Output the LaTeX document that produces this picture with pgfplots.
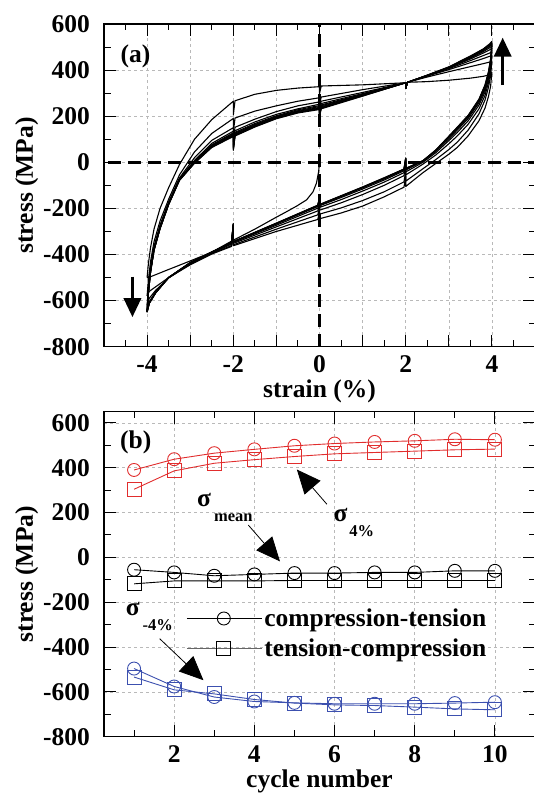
\documentclass[border=0pt]{standalone}
\usepackage{fontspec}
\setmainfont{Liberation Serif}
\usepackage{pgfplots}
\pgfplotsset{compat=1.18}
\usetikzlibrary{arrows.meta}

\definecolor{myred}{RGB}{225,45,45}
\definecolor{myblue}{RGB}{60,80,175}

\newcommand{\bigf}{\fontsize{25.5}{28}\selectfont\bfseries}
\newcommand{\subf}{\fontsize{16.5}{18}\selectfont\bfseries}

\pgfplotsset{
  myaxis/.style={
    scale only axis, width=431pt,
    axis line style={line width=1.2pt},
    tick align=inside,
    major tick length=12pt, minor tick length=6.5pt,
    tick style={black, line width=1pt},
    grid=major,
    major grid style={gray!55, dash pattern=on 3pt off 3pt, line width=0.6pt},
    tick label style={font=\bigf, inner sep=0pt},
    yticklabel style={xshift=-14pt},
    xticklabel style={yshift=-8.5pt},
    label style={font=\bigf},
    ytick={-800,-600,-400,-200,0,200,400,600},
    yticklabels={-800,-600,-400,-200,0,200,400,600},
    minor y tick num=1,
    ylabel={stress (MPa)},
    ylabel style={at={(axis description cs:-0.165,0.5)}, anchor=base},
  },
  loop/.style={black, line width=1.1pt, line join=round, no marks},
}

\begin{document}
\begin{tikzpicture}
\path[use as bounding box] (0,0) rectangle (533pt,794pt);

% ---------------- panel (a) ----------------
\begin{axis}[myaxis,
  at={(104pt,447.3pt)}, anchor=south west,
  height=322.7pt,
  xmin=-5, xmax=5, ymin=-800, ymax=600,
  xtick={-5,-4,-3,-2,-1,0,1,2,3,4,5},
  xticklabels={,-4,,-2,,0,,2,,4,},
  minor x tick num=1,
  xlabel={strain (\%)},
  xlabel style={at={(axis description cs:0.5,-0.1585)}, anchor=base},
]
% initial compression
\addplot[loop] coordinates {(0,0) (-0.02,-40) (-0.07,-90) (-0.15,-128) (-0.3,-163) (-0.53,-190) (-0.8,-218) (-1,-238) (-1.5,-290) (-2,-338) (-2,-265) (-2.04,-342) (-2.5,-390) (-3,-428) (-3.5,-465) (-3.9,-495) (-4,-500)};
% U1
\addplot[loop] coordinates {(-4,-500) (-3.97,-440) (-3.92,-370) (-3.84,-290) (-3.7,-200) (-3.5,-110) (-3.25,-10) (-2.9,100) (-2.5,185) (-2,265) (-2,205) (-1.96,267) (-1.5,295) (-1,312) (-0.5,322) (0,328) (0,298) (0.04,331) (1,336) (2,345) (2,320) (2.04,347) (2.5,350) (3,356) (3.5,365) (3.8,373) (3.95,380) (4,390)};
% L1
\addplot[loop] coordinates {(4,390) (3.97,330) (3.92,285) (3.84,235) (3.7,180) (3.45,115) (3.2,65) (3,35) (2.7,-5) (2.4,-45) (2,-105) (2,-60) (1.96,-108) (1.5,-150) (1,-190) (0.5,-220) (0,-245) (0,-215) (-0.04,-248) (-1,-300) (-2,-362) (-2,-287) (-2.04,-365) (-2.5,-398) (-3,-445) (-3.5,-500) (-3.8,-540) (-3.95,-560) (-4,-580)};
% U2
\addplot[loop] coordinates {(-4,-580) (-3.97,-510) (-3.92,-430) (-3.84,-345) (-3.7,-255) (-3.5,-160) (-3.25,-55) (-2.9,45) (-2.5,125) (-2,190) (-2,130) (-1.96,192) (-1.5,222) (-1,245) (-0.5,265) (0,280) (0,250) (0.04,283) (1,315) (2,345) (2,320) (2.04,347) (2.5,370) (3,393) (3.5,415) (3.8,428) (3.95,435) (4,440)};
% L2
\addplot[loop] coordinates {(4,440) (3.97,375) (3.92,325) (3.84,270) (3.7,210) (3.45,140) (3.2,88) (3,55) (2.7,12) (2.4,-28) (2,-82) (2,-37) (1.96,-85) (1.5,-128) (1,-166) (0.5,-198) (0,-225) (0,-195) (-0.04,-228) (-1,-290) (-2,-358) (-2,-283) (-2.04,-361) (-2.5,-396) (-3,-442) (-3.5,-502) (-3.8,-555) (-3.95,-590) (-4,-620)};
% U3
\addplot[loop] coordinates {(-4,-620) (-3.97,-540) (-3.92,-455) (-3.84,-365) (-3.7,-272) (-3.5,-172) (-3.25,-68) (-2.9,20) (-2.5,95) (-2,150) (-2,90) (-1.96,152) (-1.5,187) (-1,220) (-0.5,245) (0,262) (0,232) (0.04,265) (1,303) (2,345) (2,320) (2.04,347) (2.5,374) (3,402) (3.5,432) (3.8,450) (3.95,460) (4,465)};
% L3
\addplot[loop] coordinates {(4,465) (3.97,395) (3.92,345) (3.84,290) (3.7,232) (3.45,165) (3.2,115) (3,80) (2.7,32) (2.4,-8) (2,-55) (2,-10) (1.96,-58) (1.5,-100) (1,-140) (0.5,-176) (0,-208) (0,-178) (-0.04,-211) (-1,-280) (-2,-352) (-2,-277) (-2.04,-355) (-2.5,-394) (-3,-440) (-3.5,-501) (-3.8,-560) (-3.95,-605) (-4,-640)};
% U4
\addplot[loop] coordinates {(-4,-640) (-3.97,-555) (-3.92,-465) (-3.84,-373) (-3.7,-280) (-3.5,-177) (-3.25,-72) (-2.9,8) (-2.5,82) (-2,135) (-2,75) (-1.96,137) (-1.5,175) (-1,208) (-0.5,232) (0,252) (0,222) (0.04,255) (1,298) (2,345) (2,320) (2.04,347) (2.5,375) (3,406) (3.5,441) (3.8,463) (3.95,474) (4,480)};
% L4
\addplot[loop] coordinates {(4,480) (3.97,410) (3.92,360) (3.84,305) (3.7,248) (3.45,180) (3.2,130) (3,94) (2.7,42) (2.4,0) (2,-42) (2,3) (1.96,-45) (1.5,-86) (1,-125) (0.5,-162) (0,-196) (0,-166) (-0.04,-199) (-1,-273) (-2,-348) (-2,-273) (-2.04,-351) (-2.5,-392) (-3,-438) (-3.5,-500) (-3.8,-563) (-3.95,-608) (-4,-645)};
% U5
\addplot[loop] coordinates {(-4,-645) (-3.97,-560) (-3.92,-470) (-3.84,-377) (-3.7,-283) (-3.5,-179) (-3.25,-74) (-2.9,4) (-2.5,76) (-2,128) (-2,68) (-1.96,130) (-1.5,168) (-1,202) (-0.5,228) (0,246) (0,216) (0.04,249) (1,295) (2,345) (2,320) (2.04,347) (2.5,376) (3,409) (3.5,448) (3.8,474) (3.95,488) (4,495)};
% L5
\addplot[loop] coordinates {(4,495) (3.97,422) (3.92,370) (3.84,315) (3.7,258) (3.45,190) (3.2,140) (3,102) (2.7,48) (2.4,5) (2,-34) (2,11) (1.96,-37) (1.5,-77) (1,-116) (0.5,-153) (0,-189) (0,-159) (-0.04,-192) (-1,-268) (-2,-346) (-2,-271) (-2.04,-349) (-2.5,-391) (-3,-437) (-3.5,-500) (-3.8,-565) (-3.95,-610) (-4,-650)};
% U6
\addplot[loop] coordinates {(-4,-650) (-3.97,-565) (-3.92,-473) (-3.84,-379) (-3.7,-285) (-3.5,-180) (-3.25,-75) (-2.9,2) (-2.5,73) (-2,124) (-2,64) (-1.96,126) (-1.5,164) (-1,199) (-0.5,224) (0,242) (0,212) (0.04,245) (1,293) (2,345) (2,320) (2.04,347) (2.5,376) (3,410) (3.5,452) (3.8,480) (3.95,497) (4,505)};
% L6
\addplot[loop] coordinates {(4,505) (3.97,432) (3.92,378) (3.84,322) (3.7,264) (3.45,196) (3.2,146) (3,107) (2.7,50) (2.4,6) (2,-30) (2,15) (1.96,-33) (1.5,-72) (1,-111) (0.5,-149) (0,-186) (0,-156) (-0.04,-189) (-1,-266) (-2,-345) (-2,-270) (-2.04,-348) (-2.5,-390) (-3,-436) (-3.5,-500) (-3.8,-566) (-3.95,-611) (-4,-650)};
% U7
\addplot[loop] coordinates {(-4,-650) (-3.97,-566) (-3.92,-475) (-3.84,-380) (-3.7,-286) (-3.5,-181) (-3.25,-76) (-2.9,0) (-2.5,70) (-2,120) (-2,60) (-1.96,122) (-1.5,161) (-1,196) (-0.5,221) (0,238) (0,208) (0.04,241) (1,291) (2,345) (2,320) (2.04,347) (2.5,377) (3,411) (3.5,455) (3.8,484) (3.95,503) (4,512)};
% L7
\addplot[loop] coordinates {(4,512) (3.97,440) (3.92,385) (3.84,330) (3.7,270) (3.45,200) (3.2,150) (3,110) (2.7,52) (2.4,7) (2,-28) (2,17) (1.96,-31) (1.5,-70) (1,-109) (0.5,-147) (0,-185) (0,-155) (-0.04,-188) (-1,-265) (-2,-345) (-2,-270) (-2.04,-348) (-2.5,-390) (-3,-435) (-3.5,-500) (-3.8,-566) (-3.95,-612) (-4,-650)};
% U8
\addplot[loop] coordinates {(-4,-650) (-3.97,-567) (-3.92,-476) (-3.84,-381) (-3.7,-287) (-3.5,-182) (-3.25,-77) (-2.9,-2) (-2.5,68) (-2,117) (-2,57) (-1.96,119) (-1.5,158) (-1,193) (-0.5,218) (0,235) (0,205) (0.04,238) (1,290) (2,345) (2,320) (2.04,347) (2.5,377) (3,412) (3.5,457) (3.8,487) (3.95,507) (4,517)};
% L8
\addplot[loop] coordinates {(4,517) (3.97,444) (3.92,389) (3.84,333) (3.7,272) (3.45,202) (3.2,152) (3,112) (2.7,53) (2.4,7) (2,-27) (2,18) (1.96,-30) (1.5,-68) (1,-108) (0.5,-146) (0,-184) (0,-154) (-0.04,-187) (-1,-264) (-2,-344) (-2,-269) (-2.04,-347) (-2.5,-389) (-3,-435) (-3.5,-500) (-3.8,-566) (-3.95,-612) (-4,-648)};
% U9
\addplot[loop] coordinates {(-4,-648) (-3.97,-566) (-3.92,-476) (-3.84,-382) (-3.7,-288) (-3.5,-183) (-3.25,-78) (-2.9,-3) (-2.5,66) (-2,114) (-2,54) (-1.96,116) (-1.5,155) (-1,191) (-0.5,216) (0,232) (0,202) (0.04,235) (1,288) (2,345) (2,320) (2.04,347) (2.5,378) (3,414) (3.5,461) (3.8,492) (3.95,514) (4,525)};
% L9
\addplot[loop] coordinates {(4,525) (3.97,450) (3.92,393) (3.84,336) (3.7,274) (3.45,204) (3.2,153) (3,113) (2.7,54) (2.4,6) (2,-26) (2,19) (1.96,-29) (1.5,-67) (1,-107) (0.5,-145) (0,-183) (0,-153) (-0.04,-186) (-1,-264) (-2,-344) (-2,-269) (-2.04,-347) (-2.5,-389) (-3,-435) (-3.5,-500) (-3.8,-566) (-3.95,-612) (-4,-648)};
% U10
\addplot[loop] coordinates {(-4,-648) (-3.97,-567) (-3.92,-477) (-3.84,-382) (-3.7,-288) (-3.5,-183) (-3.25,-79) (-2.9,-4) (-2.5,64) (-2,112) (-2,52) (-1.96,114) (-1.5,153) (-1,189) (-0.5,214) (0,229) (0,199) (0.04,232) (1,287) (2,345) (2,320) (2.04,347) (2.5,378) (3,413) (3.5,459) (3.8,490) (3.95,512) (4,522)};
% dashed zero lines
\addplot[black, line width=3.3pt, dash pattern=on 13pt off 7pt, no marks] coordinates {(-4.9,0) (5,0)};
\addplot[black, line width=3.3pt, dash pattern=on 13pt off 7pt, no marks] coordinates {(0,-800) (0,600)};
% arrows
\draw[line width=3.3pt, -{Triangle[length=19pt,width=17pt]}] (axis cs:4.25,335) -- (axis cs:4.25,541);
\draw[line width=3.3pt, -{Triangle[length=19pt,width=17pt]}] (axis cs:-4.34,-496) -- (axis cs:-4.34,-672);
\node[font=\bigf, inner sep=0pt] at (axis cs:-4.27,461) {(a)};
\end{axis}

% ---------------- panel (b) ----------------
\begin{axis}[myaxis,
  at={(104pt,57.3pt)}, anchor=south west,
  height=325pt,
  xmin=0.25, xmax=11, ymin=-800, ymax=650,
  xtick={2,4,6,8,10},
  xticklabels={2,4,6,8,10},
  minor xtick={1,3,5,7,9},
  xlabel={cycle number},
  xlabel style={at={(axis description cs:0.5,-0.1548)}, anchor=base},
  legend image code/.code={\draw[mark repeat=2,mark phase=2,#1] plot coordinates {(0pt,0pt) (37pt,0pt) (75pt,0pt)};},
  legend cell align=left,
  legend style={at={(axis cs:2.3,-340)}, anchor=west, draw=none, fill=none, inner sep=0pt,
    row sep=7pt, font=\bigf, nodes={inner sep=2pt},
    /tikz/every even column/.append style={column sep=7pt}},
]
\addlegendimage{black, line width=0.9pt, mark=o, mark size=6.5pt, mark options={solid, line width=0.9pt}}
\addlegendentry{compression-tension}
\addlegendimage{black!60, line width=0.9pt, mark=square, mark size=7pt, mark options={solid, black, line width=0.9pt}}
\addlegendentry{tension-compression}

\addplot[myred, line width=0.9pt, mark=o, mark size=6.5pt, mark options={line width=0.9pt}, forget plot] coordinates {(1,390) (2,438) (3,465) (4,482) (5,498) (6,508) (7,515) (8,520) (9,527) (10,525)};
\addplot[myred, line width=0.9pt, mark=square, mark size=7pt, mark options={line width=0.9pt}, forget plot] coordinates {(1,304) (2,386) (3,420) (4,436) (5,450) (6,462) (7,468) (8,474) (9,480) (10,483)};
\addplot[black, line width=0.9pt, mark=o, mark size=6.5pt, mark options={line width=0.9pt}, forget plot] coordinates {(1,-55) (2,-67) (3,-82) (4,-76) (5,-70) (6,-70) (7,-67) (8,-67) (9,-60) (10,-60)};
\addplot[black, line width=0.9pt, mark=square, mark size=7pt, mark options={line width=0.9pt}, forget plot] coordinates {(1,-118) (2,-105) (3,-105) (4,-105) (5,-103) (6,-103) (7,-103) (8,-103) (9,-103) (10,-103)};
\addplot[myblue, line width=0.9pt, mark=o, mark size=6.5pt, mark options={line width=0.9pt}, forget plot] coordinates {(1,-496) (2,-576) (3,-623) (4,-643) (5,-649) (6,-653) (7,-653) (8,-653) (9,-650) (10,-646)};
\addplot[myblue, line width=0.9pt, mark=square, mark size=7pt, mark options={line width=0.9pt}, forget plot] coordinates {(1,-534) (2,-591) (3,-609) (4,-634) (5,-650) (6,-658) (7,-661) (8,-668) (9,-676) (10,-680)};

\draw[line width=0.8pt, -{Triangle[length=24pt,width=21pt]}] (axis cs:5.81,237) -- (axis cs:5.06,392);
\draw[line width=0.8pt, -{Triangle[length=24pt,width=21pt]}] (axis cs:3.85,144) -- (axis cs:4.64,-18);
\draw[line width=0.8pt, -{Triangle[length=24pt,width=21pt]}] (axis cs:1.64,-363) -- (axis cs:2.73,-548);

\node[font=\bigf, inner sep=0pt, anchor=base west] at (axis cs:2.57,228) {σ\hspace{3pt}\raisebox{-15pt}{\subf mean}};
\node[font=\bigf, inner sep=0pt, anchor=base west] at (axis cs:5.97,161) {σ\hspace{2pt}\raisebox{-15pt}{\subf 4\%}};
\node[font=\bigf, inner sep=0pt, anchor=base west] at (axis cs:0.79,-261) {σ\hspace{3pt}\raisebox{-15pt}{\subf -4\%}};
\node[font=\bigf, inner sep=0pt] at (axis cs:1.04,512) {(b)};
\end{axis}
\end{tikzpicture}
\end{document}
